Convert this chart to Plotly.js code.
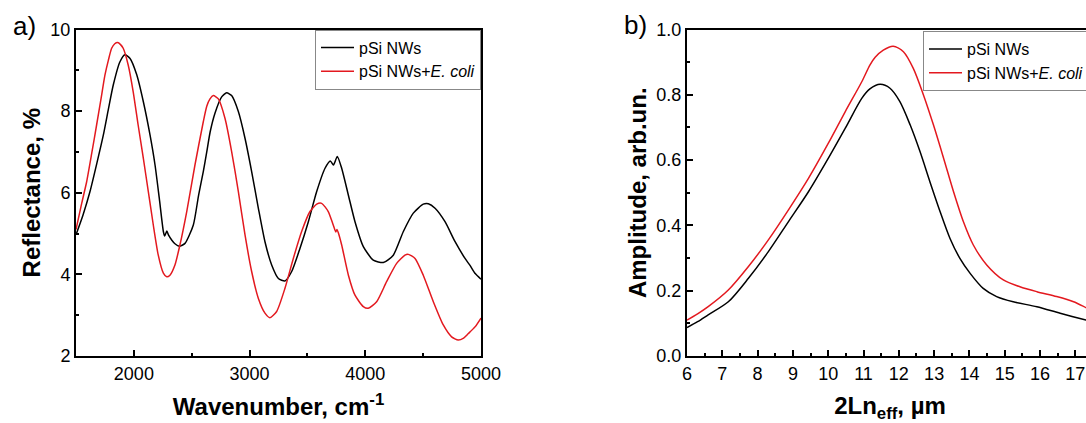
<!DOCTYPE html>
<html>
<head>
<meta charset="utf-8">
<script src="https://cdn.plot.ly/plotly-3.0.1.min.js"></script>
<style>
html,body{margin:0;padding:0;overflow:hidden;background:#fff;}
#chart{width:1100px;height:423px;}
</style>
</head>
<body>
<div id="chart"></div>
<script>
// Panel a) reflectance spectra
const wnBlack = [1500,1560,1621,1680,1736,1780,1822,1880,1923,1967,2025,2082,2140,2183,2220,2255,2266,2285,2300,2330,2355,2393,2442,2514,2560,2600,2630,2660,2701,2759,2802,2845,2903,2961,3018,3076,3133,3191,3249,3306,3364,3436,3508,3580,3652,3698,3725,3758,3796,3854,3911,3983,4069,4156,4242,4329,4415,4501,4545,4603,4689,4776,4862,4905,4950,5000];
const reflBlack = [4.97,5.45,6.03,6.72,7.41,8.05,8.64,9.21,9.38,9.29,8.89,8.23,7.41,6.68,5.86,5.05,4.94,5.06,4.96,4.83,4.75,4.69,4.76,5.21,5.95,6.52,7.0,7.5,7.95,8.35,8.45,8.38,7.99,7.33,6.52,5.62,4.80,4.23,3.90,3.84,4.07,4.64,5.29,6.03,6.60,6.78,6.68,6.89,6.60,5.94,5.29,4.68,4.35,4.29,4.47,5.05,5.50,5.72,5.73,5.62,5.29,4.80,4.39,4.22,4.02,3.88];
const wnRed = [1500,1550,1592,1635,1678,1715,1750,1780,1808,1835,1860,1885,1908,1951,1994,2037,2082,2125,2168,2211,2255,2284,2312,2355,2398,2457,2528,2600,2630,2658,2687,2730,2788,2845,2903,2961,3018,3076,3133,3176,3234,3306,3378,3450,3522,3580,3623,3680,3723,3745,3755,3767,3796,3854,3911,3983,4026,4098,4184,4271,4343,4372,4430,4501,4588,4674,4746,4803,4850,4891,4950,5000];
const reflRed = [5.10,5.75,6.27,6.95,7.66,8.28,8.88,9.25,9.54,9.65,9.68,9.63,9.54,9.13,8.48,7.66,6.84,6.03,5.21,4.47,4.03,3.94,3.98,4.23,4.72,5.54,6.68,7.74,8.12,8.30,8.38,8.30,7.82,7.01,6.03,4.96,4.07,3.41,3.05,2.94,3.09,3.66,4.39,5.05,5.54,5.72,5.74,5.54,5.21,5.04,5.10,5.02,4.72,3.98,3.49,3.21,3.17,3.33,3.82,4.27,4.47,4.49,4.39,3.98,3.33,2.76,2.47,2.39,2.44,2.55,2.72,2.93];

// Panel b) FFT amplitude
const lenBlack = [6.0,6.3,6.6,7.17,7.74,8.3,8.87,9.44,10.0,10.48,10.95,11.18,11.47,11.75,12.03,12.32,12.6,12.88,13.17,13.45,13.73,14.02,14.39,14.77,15.24,15.91,16.57,17.3,17.5];
const ampBlack = [0.087,0.105,0.126,0.166,0.238,0.319,0.411,0.503,0.605,0.697,0.789,0.818,0.832,0.820,0.779,0.708,0.626,0.534,0.442,0.360,0.299,0.253,0.207,0.182,0.166,0.151,0.131,0.110,0.104];
const lenRed = [6.0,6.3,6.6,7.17,7.74,8.3,8.87,9.44,10.0,10.48,10.95,11.18,11.33,11.56,11.84,12.13,12.41,12.7,12.98,13.27,13.55,13.83,14.11,14.49,14.96,15.43,15.91,16.47,16.95,17.3,17.5];
const ampRed = [0.110,0.129,0.151,0.202,0.274,0.355,0.447,0.544,0.651,0.748,0.840,0.891,0.915,0.937,0.949,0.932,0.881,0.799,0.708,0.605,0.503,0.411,0.340,0.279,0.233,0.212,0.197,0.182,0.166,0.148,0.138];

const nameBlack = 'pSi NWs';
const nameRed = 'pSi NWs+<i>E. coli</i>';

const W = 1100, H = 423;
const FONT = 'Liberation Sans, Arial, sans-serif';
const RED = '#e3191f';

const traces = [
  {x: wnBlack, y: reflBlack, type:'scatter', mode:'lines', name:nameBlack, line:{color:'#000', width:1.5, shape:'spline', smoothing:0.6}, xaxis:'x', yaxis:'y', legend:'legend'},
  {x: wnRed, y: reflRed, type:'scatter', mode:'lines', name:nameRed, line:{color:RED, width:1.5, shape:'spline', smoothing:0.6}, xaxis:'x', yaxis:'y', legend:'legend'},
  {x: lenBlack, y: ampBlack, type:'scatter', mode:'lines', name:nameBlack, line:{color:'#000', width:1.5, shape:'spline', smoothing:0.8}, xaxis:'x2', yaxis:'y2', legend:'legend2'},
  {x: lenRed, y: ampRed, type:'scatter', mode:'lines', name:nameRed, line:{color:RED, width:1.5, shape:'spline', smoothing:0.8}, xaxis:'x2', yaxis:'y2', legend:'legend2'}
];

const yDom = [1 - 356/H, 1 - 29.5/H];
function axisBase(extra) {
  return Object.assign({
    showline:true, linecolor:'#000', linewidth:2, mirror:true,
    ticks:'inside', ticklen:6, tickwidth:2, tickcolor:'#000',
    showgrid:false, zeroline:false,
    tickfont:{family:FONT, size:18, color:'#000'},
    automargin:false
  }, extra);
}
const titleFont = {family:FONT, size:24, color:'#000', weight:'bold'};

const layout = {
  width:W, height:H,
  margin:{l:0, r:0, t:0, b:0},
  paper_bgcolor:'#fff', plot_bgcolor:'#fff',
  showlegend:true,
  xaxis: axisBase({domain:[76/W, 481/W], range:[1500,5000], tick0:0, dtick:1000, anchor:'y',
    minor:{ticks:'inside', ticklen:3, tickwidth:2, dtick:500, tick0:0, tickcolor:'#000'},
    title:{text:'Wavenumber, cm<sup>-1</sup>', font:titleFont, standoff:16}}),
  yaxis: axisBase({domain:yDom, range:[2,10], tick0:0, dtick:2, anchor:'x',
    minor:{ticks:'inside', ticklen:3, tickwidth:2, dtick:1, tick0:0, tickcolor:'#000'},
    title:{text:'Reflectance, %', font:titleFont, standoff:3}}),
  xaxis2: axisBase({domain:[687/W, 1093/W], range:[6,17.5], tick0:0, dtick:1, anchor:'y2',
    minor:{ticks:'inside', ticklen:3, tickwidth:2, dtick:0.5, tick0:0, tickcolor:'#000'},
    title:{text:'2Ln<sub>eff</sub>, \u00b5m', font:titleFont, standoff:16}}),
  yaxis2: axisBase({domain:yDom, range:[0,1], tick0:0, dtick:0.2, tickformat:'.1f', anchor:'x2',
    minor:{ticks:'inside', ticklen:3, tickwidth:2, dtick:0.1, tick0:0, tickcolor:'#000'},
    title:{text:'Amplitude, arb.un.', font:titleFont, standoff:3}}),
  legend:{x:481/W, xanchor:'right', y:1 - 29.5/H, yanchor:'top', bgcolor:'#fff', bordercolor:'#888', borderwidth:1,
    font:{family:FONT, size:16, color:'#000'}, tracegroupgap:0, itemwidth:33, traceorder:'normal'},
  legend2:{x:923/W, xanchor:'left', y:1 - 31/H, yanchor:'top', bgcolor:'#fff', bordercolor:'#888', borderwidth:1,
    font:{family:FONT, size:16, color:'#000'}, tracegroupgap:0, itemwidth:33, traceorder:'normal'},
  annotations:[
    {text:'a)', xref:'paper', yref:'paper', x:24/W, y:1 - 26/H, xanchor:'center', yanchor:'middle', showarrow:false, font:{family:FONT, size:26, color:'#000'}},
    {text:'b)', xref:'paper', yref:'paper', x:635/W, y:1 - 25/H, xanchor:'center', yanchor:'middle', showarrow:false, font:{family:FONT, size:26, color:'#000'}}
  ]
};

Plotly.newPlot('chart', traces, layout, {staticPlot:true, displayModeBar:false});
</script>
</body>
</html>
